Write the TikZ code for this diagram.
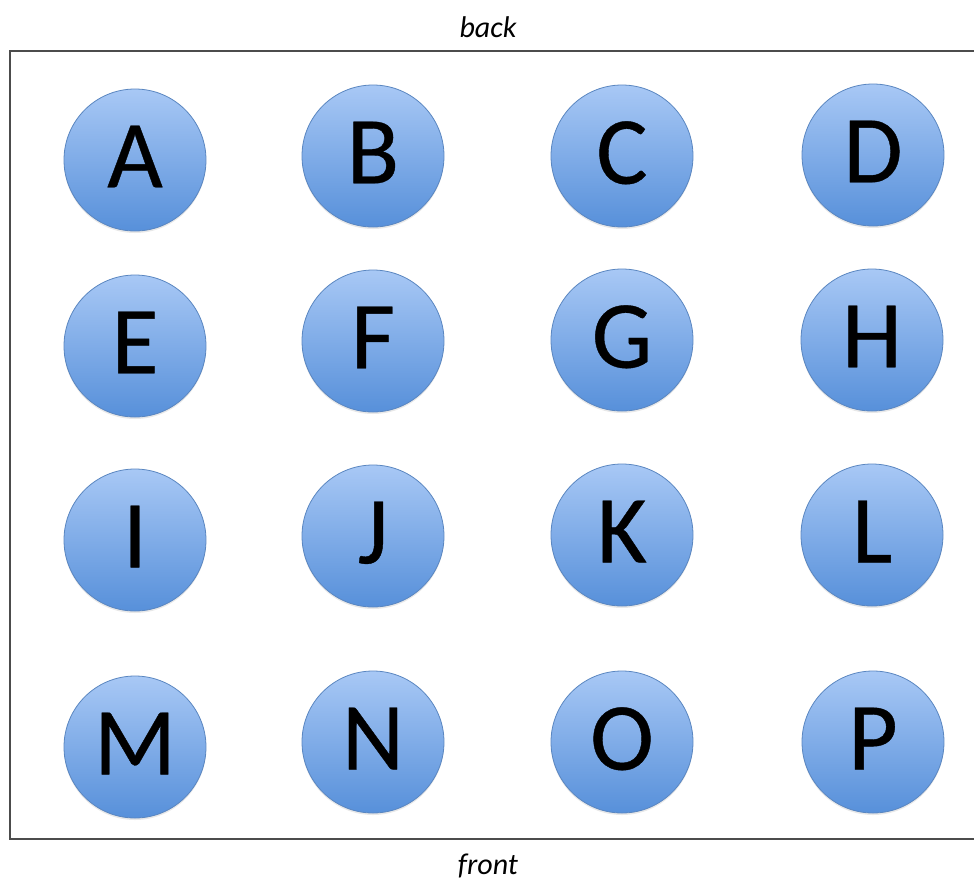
\documentclass[tikz,border=0pt]{standalone}
\usepackage{fontspec}
\setmainfont{Carlito}
\newfontfamily\ballfont[FakeBold=0.4]{Carlito}
\usetikzlibrary{shadows}
\definecolor{balltop}{HTML}{A8C8F5}
\definecolor{ballbot}{HTML}{5790DA}
\definecolor{ballline}{HTML}{5A86C0}
\tikzset{
  ball/.style={circle, minimum size=142pt, inner sep=0pt, draw=ballline, line width=0.8pt,
    top color=balltop, bottom color=ballbot, text depth=7pt,
    drop shadow={shadow xshift=0pt, shadow yshift=-2pt, opacity=0.18, fill=gray},
    font=\ballfont\fontsize{96}{96}\selectfont, text=black},
  side/.style={font=\itshape\fontsize{30}{30}\selectfont, text=black},
  frame/.style={line width=1.5pt, draw=black!70}
}
\begin{document}
\begin{tikzpicture}[x=1pt,y=-1pt]
\useasboundingbox (0,0) rectangle (974,884);
\draw[frame] (974,51) -- (10,51) -- (10,839) -- (974,839);
\node[side] (back) at (488,27) {back};
\node[side] (front) at (488,866) {front};
\node[ball] (A) at (135,160) {A};
\node[ball] (B) at (373,156) {B};
\node[ball] (C) at (622,156) {C};
\node[ball] (D) at (873,155) {D};
\node[ball] (E) at (135,346) {E};
\node[ball] (F) at (373,341) {F};
\node[ball] (G) at (622,340) {G};
\node[ball] (H) at (872,340) {H};
\node[ball] (I) at (135,540) {I};
\node[ball] (J) at (373,536) {J};
\node[ball] (K) at (622,535) {K};
\node[ball] (L) at (872,535) {L};
\node[ball] (M) at (135,747) {M};
\node[ball] (N) at (373,742) {N};
\node[ball] (O) at (622,742) {O};
\node[ball] (P) at (873,742) {P};
\end{tikzpicture}
\end{document}
